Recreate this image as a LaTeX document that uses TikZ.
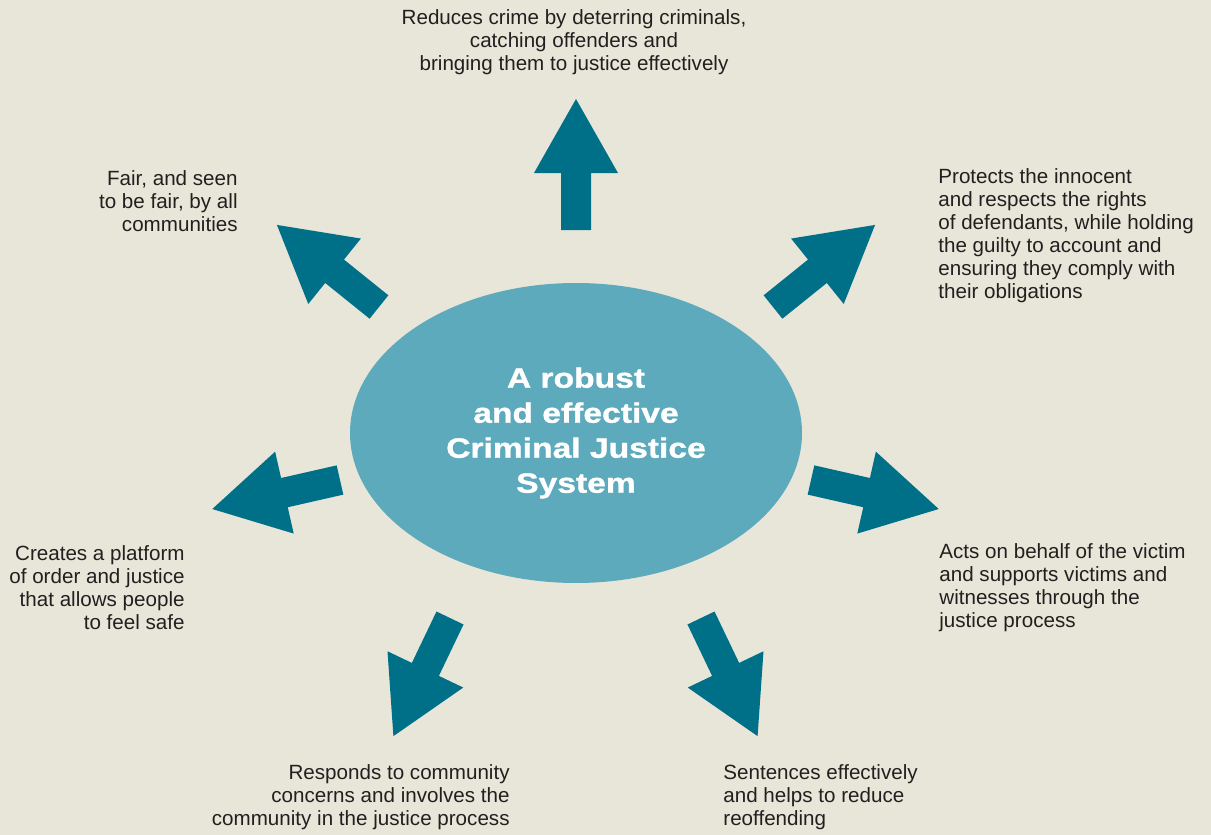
\documentclass[tikz,border=0pt]{standalone}
\usepackage{fontspec}
\setmainfont{Liberation Sans}
\newfontfamily\headfont[FakeStretch=1.2,FakeBold=1.2]{Liberation Sans Bold}
\usetikzlibrary{shapes.geometric}

\definecolor{paper}{RGB}{232,230,216}
\definecolor{petrol}{RGB}{0,112,137}
\definecolor{lagoon}{RGB}{93,170,189}
\definecolor{ink}{RGB}{35,31,32}

\tikzset{
  % fat arrow, tail at the origin, pointing along +x
  blockarrow/.pic={
    \fill[petrol] (0,-15) -- (57,-15) -- (57,-42) -- (131,0) -- (57,42) -- (57,15) -- (0,15) -- cycle;
  },
  note/.style={text=ink, inner sep=0pt, font=\fontsize{10.3}{11.5}\selectfont},
}

\begin{document}
\begin{tikzpicture}[x=0.5pt,y=-0.5pt]
  \fill[paper] (0,0) rectangle (1211,835);

  \node [ellipse, fill=lagoon, inner sep=0pt, minimum width=226pt, minimum height=150pt,
         text=white, align=center, font=\headfont\fontsize{14}{17.5}\selectfont]
        (cjs) at (576,433) {A robust\\and effective\\Criminal Justice\\System};

  % arrow tails round the ellipse
  \coordinate (t-up) at (576,230);
  \coordinate (t-ul) at (379,307);
  \coordinate (t-ur) at (773,307);
  \coordinate (t-l) at (340,480);
  \coordinate (t-r) at (811,480);
  \coordinate (t-dl) at (450,618);
  \coordinate (t-dr) at (701,618);

  \pic [rotate=90] at (t-up) {blockarrow};
  \pic [rotate=141.2] at (t-ul) {blockarrow};
  \pic [rotate=38.8] at (t-ur) {blockarrow};
  \pic [rotate=192.8] at (t-l) {blockarrow};
  \pic [rotate=-12.8] at (t-r) {blockarrow};
  \pic [rotate=244.4] at (t-dl) {blockarrow};
  \pic [rotate=-64.4] at (t-dr) {blockarrow};

  \node [note, align=center] (crime) at (574,42)
        {Reduces crime by deterring criminals,\\catching offenders and\\bringing them to justice effectively};
  \node [note, align=right, anchor=east] (fair) at (238,201)
        {Fair, and seen\\to be fair, by all\\communities};
  \node [note, align=left, anchor=west] (protect) at (938,236)
        {Protects the innocent\\and respects the rights\\of defendants, while holding\\the guilty to account and\\ensuring they comply with\\their obligations};
  \node [note, align=right, anchor=east] (order) at (185,588)
        {Creates a platform\\of order and justice\\that allows people\\to feel safe};
  \node [note, align=left, anchor=west] (victim) at (939,588)
        {Acts on behalf of the victim\\and supports victims and\\witnesses through the\\justice process};
  \node [note, align=right, anchor=east] (community) at (510,797)
        {Responds to community\\concerns and involves the\\community in the justice process};
  \node [note, align=left, anchor=west] (sentence) at (723,797)
        {Sentences effectively\\and helps to reduce\\reoffending};
\end{tikzpicture}
\end{document}
